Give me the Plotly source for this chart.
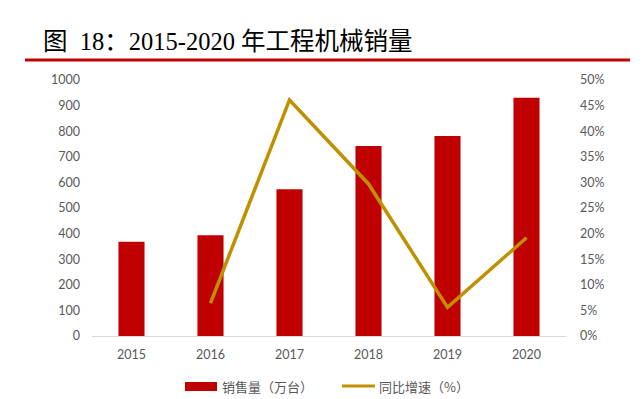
import plotly.graph_objects as go

years = ["2015", "2016", "2017", "2018", "2019", "2020"]
sales = [368, 394, 573, 742, 781, 931]
growth_years = ["2016", "2017", "2018", "2019", "2020"]
growth = [6.4, 46.1, 29.7, 5.6, 19.2]
left_ticks = [0, 100, 200, 300, 400, 500, 600, 700, 800, 900, 1000]
right_ticks = [0, 5, 10, 15, 20, 25, 30, 35, 40, 45, 50]
right_labels = [f"{v}%" for v in right_ticks]
bar_name = "销售量（万台）"
line_name = "同比增速（%）"
title_text = "图  18：2015-2020 年工程机械销量"

BAR_COLOR = "#C00000"
LINE_COLOR = "#BF9000"
tick_font = dict(family="Lato, Open Sans, sans-serif", size=12.5, color="#595959")
legend_font = dict(family="Noto Sans CJK SC, sans-serif", size=13, color="#595959")

# page body has an 8px default margin; plot area in page px: x 92..566, y 80..336
PW = 474.0
PH = 256.0
def px(x):
    return (x - 92) / PW
def py(y):
    return (336 - y) / PH

fig = go.Figure()
fig.add_trace(go.Bar(
    x=years, y=sales, name=bar_name,
    marker=dict(color=BAR_COLOR, line=dict(width=0)),
    width=0.33, yaxis="y", showlegend=False,
))
fig.add_trace(go.Scatter(
    x=growth_years, y=growth, name=line_name,
    mode="lines", line=dict(color=LINE_COLOR, width=3.5),
    yaxis="y2", showlegend=False,
))

fig.update_layout(
    width=635, height=391,
    margin=dict(l=84, r=77, t=72, b=63, autoexpand=False),
    paper_bgcolor="white", plot_bgcolor="white",
    showlegend=False,
    xaxis=dict(type="category", showgrid=False, showline=True, linecolor="#D9D9D9",
               linewidth=1, ticks="", tickfont=tick_font, zeroline=False,
               ticklabelstandoff=7),
    yaxis=dict(range=[0, 1000], tickvals=left_ticks, showgrid=False, zeroline=False,
               showline=False, tickfont=tick_font, ticks="", ticklabelstandoff=11),
    yaxis2=dict(range=[0, 50], tickvals=right_ticks, ticktext=right_labels,
                overlaying="y", side="right", showgrid=False, zeroline=False,
                showline=False, tickfont=tick_font, ticks="", ticklabelstandoff=13),
    font=dict(family="Lato, sans-serif"),
)

# title and red rule
fig.add_annotation(
    text=title_text,
    xref="paper", yref="paper", x=px(41), y=py(41), xanchor="left", yanchor="middle",
    showarrow=False,
    font=dict(family="Liberation Serif, Noto Sans CJK SC, serif", size=24.5, color="#000000"),
)
fig.add_shape(type="line", xref="paper", yref="paper", x0=px(25), x1=px(630), y0=py(60), y1=py(60),
              line=dict(color=BAR_COLOR, width=3))

# custom legend
ly = py(386)
fig.add_shape(type="rect", xref="paper", yref="paper", x0=px(185), x1=px(217),
              y0=py(391), y1=py(382), fillcolor=BAR_COLOR, line=dict(width=0))
fig.add_annotation(text=bar_name, xref="paper", yref="paper", x=px(220), y=ly,
                   xanchor="left", yanchor="middle", showarrow=False, font=legend_font)
fig.add_shape(type="line", xref="paper", yref="paper", x0=px(342), x1=px(375),
              y0=ly, y1=ly, line=dict(color=LINE_COLOR, width=3))
fig.add_annotation(text=line_name, xref="paper", yref="paper", x=px(377), y=ly,
                   xanchor="left", yanchor="middle", showarrow=False, font=legend_font)

fig.write_html("out.html")
